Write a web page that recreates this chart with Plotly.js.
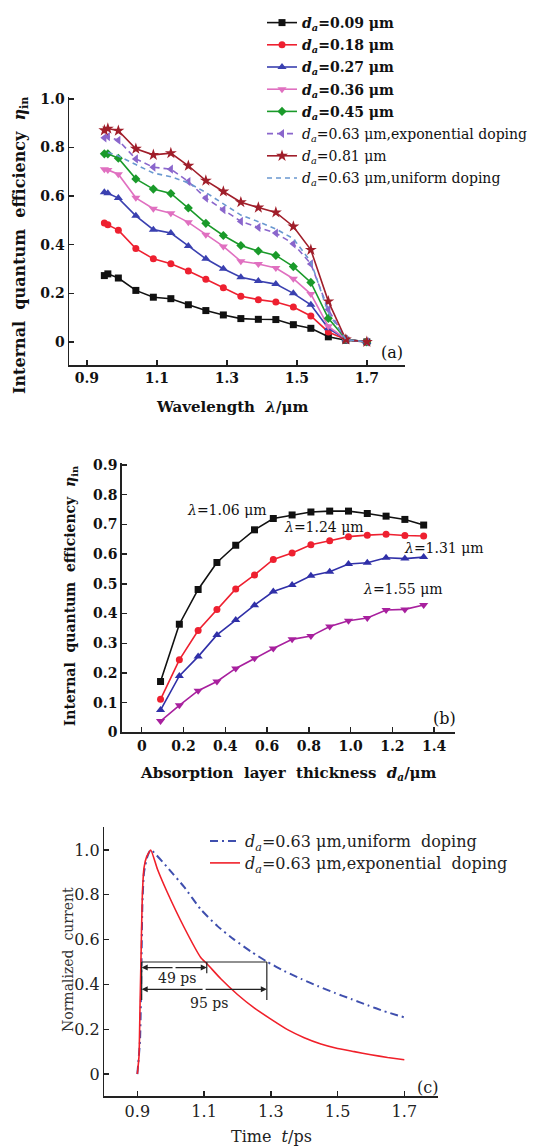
<!DOCTYPE html>
<html>
<head>
<meta charset="utf-8">
<script src="https://cdn.plot.ly/plotly-3.0.1.min.js"></script>
<style>html,body{margin:0;padding:0;background:#fff;}#chart{width:545px;height:1146px;}</style>
</head>
<body>
<div id="chart"></div>
<script>
// ---------- Panel (a): internal quantum efficiency vs wavelength ----------
const wlA = [0.95,0.96,0.99,1.04,1.09,1.14,1.19,1.24,1.29,1.34,1.39,1.44,1.49,1.54,1.59,1.64,1.70];
const eta009 = [0.273,0.280,0.263,0.212,0.184,0.178,0.153,0.129,0.111,0.096,0.093,0.092,0.071,0.056,0.021,0.007,0];
const eta018 = [0.489,0.482,0.460,0.384,0.342,0.322,0.292,0.258,0.223,0.188,0.174,0.164,0.144,0.107,0.041,0.010,0];
const eta027 = [0.616,0.612,0.592,0.519,0.462,0.448,0.395,0.342,0.301,0.266,0.251,0.238,0.200,0.153,0.056,0.011,0];
const eta036 = [0.711,0.708,0.690,0.593,0.548,0.530,0.492,0.441,0.393,0.332,0.321,0.304,0.260,0.197,0.064,0.012,0];
const eta045 = [0.774,0.774,0.756,0.671,0.629,0.611,0.551,0.488,0.438,0.397,0.374,0.356,0.310,0.245,0.097,0.012,0];
const eta063exp = [0.840,0.845,0.830,0.753,0.719,0.711,0.660,0.592,0.544,0.496,0.471,0.448,0.404,0.321,0.133,0.010,0];
const eta081 = [0.871,0.878,0.869,0.795,0.770,0.777,0.725,0.664,0.619,0.575,0.553,0.533,0.475,0.379,0.167,0.010,0];
const wlUni = [0.96,0.99,1.04,1.09,1.14,1.19,1.24,1.29,1.34,1.39,1.44,1.49,1.54,1.59,1.64,1.70];
const eta063uni = [0.780,0.765,0.730,0.695,0.680,0.655,0.615,0.570,0.522,0.495,0.465,0.425,0.330,0.120,0.010,0];
const namesA = ['0.09 μm','0.18 μm','0.27 μm','0.36 μm','0.45 μm','0.63 μm,exponential doping','0.81 μm','0.63 μm,uniform doping'];
const ticksA_x = [0.9,1.1,1.3,1.5,1.7];
const ticksA_y = [0,0.2,0.4,0.6,0.8,1.0];
const ticksA_yText = ['0','0.2','0.4','0.6','0.8','1.0'];

// ---------- Panel (b): efficiency vs absorption-layer thickness ----------
const dA = [0.09,0.18,0.27,0.36,0.45,0.54,0.63,0.72,0.81,0.90,0.99,1.08,1.17,1.26,1.35];
const eta106 = [0.171,0.364,0.481,0.572,0.630,0.682,0.720,0.732,0.742,0.745,0.745,0.737,0.728,0.717,0.698];
const eta124 = [0.111,0.244,0.343,0.414,0.483,0.530,0.582,0.604,0.632,0.645,0.659,0.664,0.667,0.663,0.661];
const eta131 = [0.075,0.190,0.255,0.328,0.378,0.428,0.474,0.496,0.527,0.541,0.567,0.571,0.588,0.585,0.590];
const eta155 = [0.038,0.091,0.140,0.171,0.215,0.249,0.282,0.313,0.324,0.356,0.376,0.385,0.412,0.414,0.429];
const labelsB = ['λ=1.06 μm','λ=1.24 μm','λ=1.31 μm','λ=1.55 μm'];
const ticksB_x = [0,0.2,0.4,0.6,0.8,1.0,1.2,1.4];
const ticksB_xText = ['0','0.2','0.4','0.6','0.8','1.0','1.2','1.4'];
const ticksB_y = [0,0.1,0.2,0.3,0.4,0.5,0.6,0.7,0.8,0.9];
const ticksB_yText = ['0','0.1','0.2','0.3','0.4','0.5','0.6','0.7','0.8','0.9'];

// ---------- Panel (c): normalized current vs time ----------
const tUni = [0.9,0.908,0.912,0.915,0.92,0.93,0.94,0.99,1.04,1.09,1.14,1.19,1.24,1.29,1.34,1.39,1.44,1.49,1.54,1.59,1.64,1.70];
const iUni = [0,0.15,0.45,0.75,0.90,0.97,1.0,0.922,0.835,0.735,0.660,0.600,0.547,0.500,0.460,0.425,0.393,0.363,0.335,0.307,0.280,0.253];
const tExp = [0.9,0.905,0.908,0.911,0.915,0.92,0.928,0.94,0.96,0.99,1.04,1.09,1.11,1.15,1.20,1.25,1.30,1.35,1.40,1.45,1.50,1.55,1.60,1.65,1.70];
const iExp = [0,0.08,0.30,0.52,0.80,0.92,0.97,1.0,0.915,0.810,0.655,0.520,0.490,0.425,0.355,0.295,0.245,0.198,0.162,0.134,0.114,0.100,0.086,0.074,0.064];
const ticksC_x = [0.9,1.1,1.3,1.5,1.7];
const ticksC_y = [0,0.2,0.4,0.6,0.8,1.0];
const ticksC_yText = ['0','0.2','0.4','0.6','0.8','1.0'];

const FONT = 'DejaVu Serif, Liberation Serif, serif';
const W = 545, H = 1146;
const px = v => v / W;
const py = v => 1 - v / H;
const dsub = '<i>d</i><sub><i>a</i></sub>=';

function lineTrace(x, y, color, symbol, dash, name, axis, extra) {
  const t = {
    x: x, y: y, type: 'scatter', mode: symbol ? 'lines+markers' : 'lines',
    name: name, xaxis: 'x' + axis, yaxis: 'y' + axis,
    line: {color: color, width: 1.6, dash: dash || 'solid'},
    cliponaxis: false
  };
  if (symbol) t.marker = {symbol: symbol, size: 7, color: color};
  return Object.assign(t, extra || {});
}

const colA = ['#111111','#ee2030','#3a40b0','#e070c0','#1a9a2a','#8a66cc','#a01e2a','#6a98d0'];
const seriesA = [eta009, eta018, eta027, eta036, eta045, eta063exp, eta081];
const symA = ['square','circle','triangle-up','triangle-down','diamond','triangle-left','star'];
const traces = [];
seriesA.forEach((s, i) => {
  const bold = i < 5;
  const nm = bold ? '<b>' + dsub + namesA[i] + '</b>' : dsub + namesA[i];
  const sz = symA[i] === 'star' ? 9 : (symA[i].indexOf('triangle') === 0 ? 8 : 7);
  const tr = lineTrace(wlA, s, colA[i], symA[i], i === 5 ? '6px,4px' : 'solid', nm, '', {legend: 'legend', legendgroup: 'g' + i});
  tr.marker.size = sz;
  traces.push(tr);
});
traces.push(lineTrace(wlUni, eta063uni, colA[7], null, '5px,4px', dsub + namesA[7], '', {legend: 'legend', legendgroup: 'g7'}));

const colB = ['#111111','#ee2030','#3030a8','#a8209e'];
const seriesB = [eta106, eta124, eta131, eta155];
const symB = ['square','circle','triangle-up','triangle-down'];
seriesB.forEach((s, i) => {
  const tr = lineTrace(dA, s, colB[i], symB[i], 'solid', labelsB[i], '2', {showlegend: false});
  tr.marker.size = symB[i].indexOf('triangle') === 0 ? 8 : 7;
  traces.push(tr);
});

traces.push(lineTrace(tUni, iUni, '#3f4fae', null, '8px,4px,2px,4px', dsub + '0.63 μm,uniform  doping', '3',
  {legend: 'legend2', line: {color: '#3f4fae', width: 2, dash: '8px,4px,2px,4px', shape: 'spline', smoothing: 0.5}}));
traces.push(lineTrace(tExp, iExp, '#f0202a', null, 'solid', dsub + '0.63 μm,exponential  doping', '3',
  {legend: 'legend3', line: {color: '#f0202a', width: 1.6, shape: 'spline', smoothing: 0.5}}));

const axisBase = {
  showline: true, linecolor: '#222', linewidth: 1.5, mirror: false,
  ticks: 'inside', ticklen: 5, tickwidth: 1.4, tickcolor: '#222',
  showgrid: false, zeroline: false, fixedrange: true
};

const tickBold = {family: FONT, size: 14, color: '#111', weight: 'bold'};
const tickReg = {family: FONT, size: 16, color: '#222'};

const layout = {
  width: W, height: H, autosize: false,
  margin: {l: 0, r: 0, t: 0, b: 0, pad: 0},
  paper_bgcolor: '#fff', plot_bgcolor: '#fff',
  font: {family: FONT, size: 14, color: '#111'},
  showlegend: true,
  xaxis: Object.assign({}, axisBase, {domain: [px(69), px(405)], range: [0.849, 1.809], anchor: 'y',
    tickvals: ticksA_x, ticktext: ticksA_x.map(v => v.toFixed(1)), tickfont: tickBold}),
  yaxis: Object.assign({}, axisBase, {domain: [py(365), py(97)], range: [-0.095, 1.008], anchor: 'x',
    tickvals: ticksA_y, ticktext: ticksA_yText, tickfont: tickBold}),
  xaxis2: Object.assign({}, axisBase, {domain: [px(121.7), px(455)], range: [-0.096, 1.5], anchor: 'y2',
    tickvals: ticksB_x, ticktext: ticksB_xText, tickfont: tickBold}),
  yaxis2: Object.assign({}, axisBase, {domain: [py(732.3), py(463)], range: [0, 0.907], anchor: 'x2',
    tickvals: ticksB_y, ticktext: ticksB_yText, tickfont: tickBold}),
  xaxis3: Object.assign({}, axisBase, {domain: [px(104.3), px(437.7)], range: [0.801, 1.8], anchor: 'y3',
    tickvals: ticksC_x, ticktext: ticksC_x.map(v => v.toFixed(1)), tickfont: tickReg}),
  yaxis3: Object.assign({}, axisBase, {domain: [py(1096), py(827.3)], range: [-0.098, 1.101], anchor: 'x3',
    tickvals: ticksC_y, ticktext: ticksC_yText, tickfont: tickReg}),
  legend: {x: px(262), y: py(7), xanchor: 'left', yanchor: 'top', bgcolor: 'rgba(0,0,0,0)',
    font: {family: FONT, size: 14, color: '#111'}, itemwidth: 30, tracegroupgap: 1},
  legend2: {x: px(205), y: py(824), xanchor: 'left', yanchor: 'top', bgcolor: 'rgba(0,0,0,0)',
    font: {family: FONT, size: 16, color: '#222'}, itemwidth: 30},
  legend3: {x: px(205), y: py(846), xanchor: 'left', yanchor: 'top', bgcolor: 'rgba(0,0,0,0)',
    font: {family: FONT, size: 16, color: '#222'}, itemwidth: 30},
  shapes: [
    {type: 'line', xref: 'x3', yref: 'y3', x0: 0.913, x1: 1.288, y0: 0.5, y1: 0.5, line: {color: '#222', width: 1.2}},
    {type: 'line', xref: 'x3', yref: 'y3', x0: 0.913, x1: 0.913, y0: 0.33, y1: 0.5, line: {color: '#222', width: 1.2}},
    {type: 'line', xref: 'x3', yref: 'y3', x0: 1.288, x1: 1.288, y0: 0.33, y1: 0.5, line: {color: '#222', width: 1.2}},
    {type: 'line', xref: 'x3', yref: 'y3', x0: 1.108, x1: 1.108, y0: 0.45, y1: 0.5, line: {color: '#222', width: 1.2}}
  ],
  annotations: []
};

const ann = layout.annotations;
function txt(text, x, y, opts) {
  ann.push(Object.assign({text: text, x: x, y: y, xref: 'paper', yref: 'paper', showarrow: false,
    xanchor: 'center', yanchor: 'middle', font: {family: FONT, size: 14, color: '#111'}}, opts || {}));
}
// axis titles
txt('<b>Internal  quantum  efficiency  <i>η</i><sub>in</sub></b>', px(20.5), py(245.5), {textangle: -90, font: {family: FONT, size: 16, color: '#111'}});
txt('<b>Wavelength  <i>λ</i>/μm</b>', px(232), py(407), {font: {family: FONT, size: 15, color: '#111'}});
txt('<b>Internal  quantum  efficiency  <i>η</i><sub>in</sub></b>', px(70.8), py(596.5), {textangle: -90, font: {family: FONT, size: 14, color: '#111'}});
txt('<b>Absorption  layer  thickness  <i>d</i><sub><i>a</i></sub>/μm</b>', px(288.5), py(773), {font: {family: FONT, size: 15, color: '#111'}});
txt('Normalized  current', px(68), py(960), {textangle: -90, font: {family: FONT, size: 14, color: '#333'}});
txt('Time  <i>t</i>/ps', px(271), py(1136), {font: {family: FONT, size: 16, color: '#222'}});
// panel labels
txt('(a)', 1.771, -0.044, {xref: 'x', yref: 'y', font: {family: FONT, size: 16, color: '#111'}});
txt('(b)', 1.451, 0.045, {xref: 'x2', yref: 'y2', font: {family: FONT, size: 16, color: '#111'}});
txt('(c)', 1.770, -0.06, {xref: 'x3', yref: 'y3', font: {family: FONT, size: 16, color: '#222'}});
// curve labels in (b)
const posB = [[0.407, 0.749], [0.872, 0.692], [1.447, 0.620], [1.252, 0.481]];
labelsB.forEach((l, i) => {
  const parts = l.split('=');
  txt('<i>' + parts[0] + '</i>=' + parts[1], posB[i][0], posB[i][1], {xref: 'x2', yref: 'y2', font: {family: FONT, size: 14, color: '#111'}});
});
// (c) arrows and labels
function arrow(xh, yh, xt, yt) {
  ann.push({text: '', x: xh, y: yh, ax: xt, ay: yt, xref: 'x3', yref: 'y3', axref: 'x3', ayref: 'y3',
    showarrow: true, arrowhead: 2, arrowsize: 1, arrowwidth: 1.2, arrowcolor: '#222', standoff: 0, startstandoff: 0});
}
arrow(0.913, 0.475, 1.01, 0.475);
arrow(1.108, 0.475, 1.01, 0.475);
arrow(0.913, 0.378, 1.10, 0.378);
arrow(1.288, 0.378, 1.10, 0.378);
txt('49 ps', 1.02, 0.427, {xref: 'x3', yref: 'y3', font: {family: FONT, size: 14, color: '#222'}});
txt('95 ps', 1.115, 0.316, {xref: 'x3', yref: 'y3', font: {family: FONT, size: 14, color: '#222'}});

Plotly.newPlot('chart', traces, layout, {displayModeBar: false, staticPlot: true});
</script>
</body>
</html>
